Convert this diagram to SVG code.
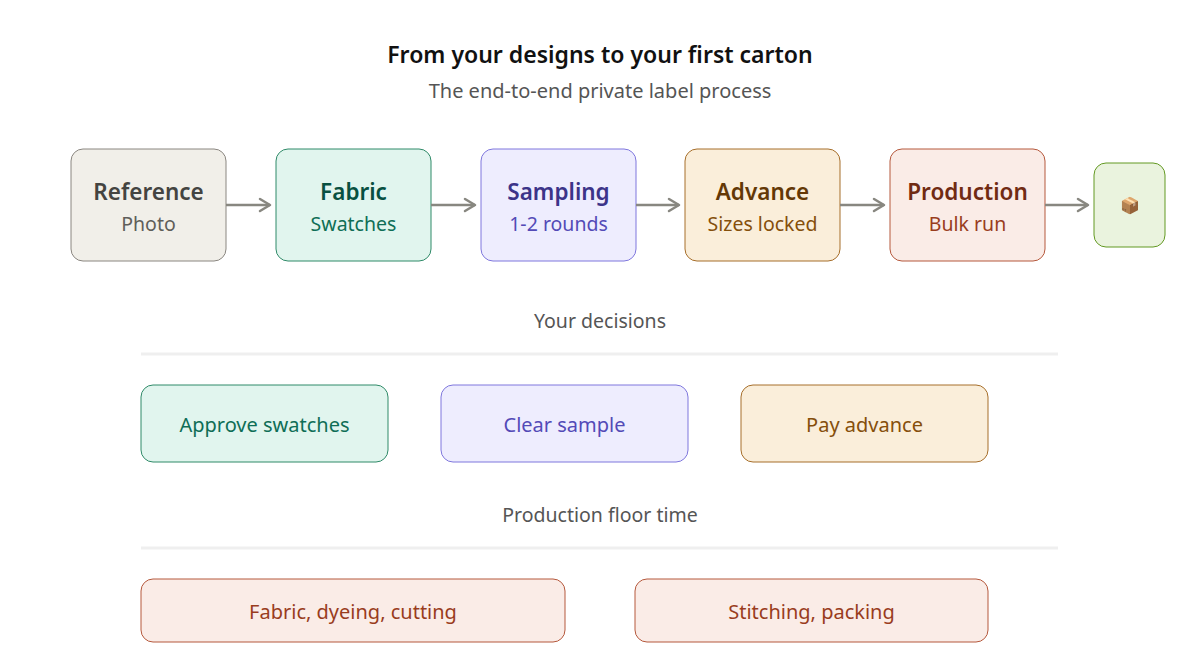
<svg xmlns="http://www.w3.org/2000/svg" width="1200" height="671" viewBox="0 0 1200 671">
<defs>
<marker id="arr" viewBox="0 0 14 16" refX="12" refY="8" markerWidth="14" markerHeight="16" markerUnits="userSpaceOnUse" orient="auto">
<path d="M2,2 L12,8 L2,14" fill="none" stroke="#888780" stroke-width="2.5" stroke-linecap="round" stroke-linejoin="round"/>
</marker>
<style>
text{font-family:"Noto Sans","Open Sans","Liberation Sans",sans-serif;text-anchor:middle}
.title{font-size:23px;font-weight:600;fill:#111}
.sub{font-size:20px;fill:#555}
.nt{font-size:22.5px;font-weight:600}
.ns{font-size:19.5px}
.lbl{font-size:20px}
.sec{font-size:19.5px;fill:#555}
.div{stroke:#efefef;stroke-width:3}
.conn{stroke:#888780;stroke-width:2.5;fill:none}
</style>
</defs>
<rect width="1200" height="671" fill="#fff"/>
<text class="title" x="600" y="63">From your designs to your first carton</text>
<text class="sub" x="600" y="98">The end-to-end private label process</text>

<g id="n-reference">
<rect x="71" y="149" width="155" height="112" rx="12" fill="#f1efe9" stroke="#8a8680" stroke-width="1"/>
<text class="nt" x="148.5" y="200" fill="#444441">Reference</text>
<text class="ns" x="148.5" y="231" fill="#5f5e5a">Photo</text>
</g>
<g id="n-fabric">
<rect x="276" y="149" width="155" height="112" rx="12" fill="#e1f5ee" stroke="#2f8a68" stroke-width="1"/>
<text class="nt" x="353.5" y="200" fill="#085041">Fabric</text>
<text class="ns" x="353.5" y="231" fill="#0f6e56">Swatches</text>
</g>
<g id="n-sampling">
<rect x="481" y="149" width="155" height="112" rx="12" fill="#eeedfe" stroke="#7f77dd" stroke-width="1"/>
<text class="nt" x="558.5" y="200" fill="#3c3489">Sampling</text>
<text class="ns" x="558.5" y="231" fill="#534ab7">1-2 rounds</text>
</g>
<g id="n-advance">
<rect x="685" y="149" width="155" height="112" rx="12" fill="#faeeda" stroke="#a66e2a" stroke-width="1"/>
<text class="nt" x="762.5" y="200" fill="#633806">Advance</text>
<text class="ns" x="762.5" y="231" fill="#854f0b">Sizes locked</text>
</g>
<g id="n-production">
<rect x="890" y="149" width="155" height="112" rx="12" fill="#faece7" stroke="#b5583c" stroke-width="1"/>
<text class="nt" x="967.5" y="200" fill="#712b13">Production</text>
<text class="ns" x="967.5" y="231" fill="#993c1d">Bulk run</text>
</g>
<g id="n-carton">
<rect x="1094" y="163" width="71" height="84" rx="12" fill="#eaf3de" stroke="#639922" stroke-width="1"/>
<text x="1129.5" y="211" font-size="16">📦</text>
</g>

<g id="connectors">
<line class="conn" x1="226" y1="205" x2="270" y2="205" marker-end="url(#arr)"/>
<line class="conn" x1="431" y1="205" x2="475" y2="205" marker-end="url(#arr)"/>
<line class="conn" x1="636" y1="205" x2="679" y2="205" marker-end="url(#arr)"/>
<line class="conn" x1="840" y1="205" x2="884" y2="205" marker-end="url(#arr)"/>
<line class="conn" x1="1045" y1="205" x2="1088" y2="205" marker-end="url(#arr)"/>
</g>

<text class="sec" x="600" y="328">Your decisions</text>
<line class="div" x1="141" y1="354" x2="1058" y2="354"/>

<g id="d-swatches">
<rect x="141" y="385" width="247" height="77" rx="12" fill="#e1f5ee" stroke="#2f8a68" stroke-width="1"/>
<text class="lbl" x="264.5" y="432" fill="#0f6e56">Approve swatches</text>
</g>
<g id="d-sample">
<rect x="441" y="385" width="247" height="77" rx="12" fill="#eeedfe" stroke="#7f77dd" stroke-width="1"/>
<text class="lbl" x="564.5" y="432" fill="#534ab7">Clear sample</text>
</g>
<g id="d-advance">
<rect x="741" y="385" width="247" height="77" rx="12" fill="#faeeda" stroke="#a66e2a" stroke-width="1"/>
<text class="lbl" x="864.5" y="432" fill="#854f0b">Pay advance</text>
</g>

<text class="sec" x="600" y="522">Production floor time</text>
<line class="div" x1="141" y1="548" x2="1058" y2="548"/>

<g id="p-fabric">
<rect x="141" y="579" width="424" height="63" rx="12" fill="#faece7" stroke="#b5583c" stroke-width="1"/>
<text class="lbl" x="353" y="619" fill="#993c1d">Fabric, dyeing, cutting</text>
</g>
<g id="p-stitch">
<rect x="635" y="579" width="353" height="63" rx="12" fill="#faece7" stroke="#b5583c" stroke-width="1"/>
<text class="lbl" x="811.5" y="619" fill="#993c1d">Stitching, packing</text>
</g>
</svg>
